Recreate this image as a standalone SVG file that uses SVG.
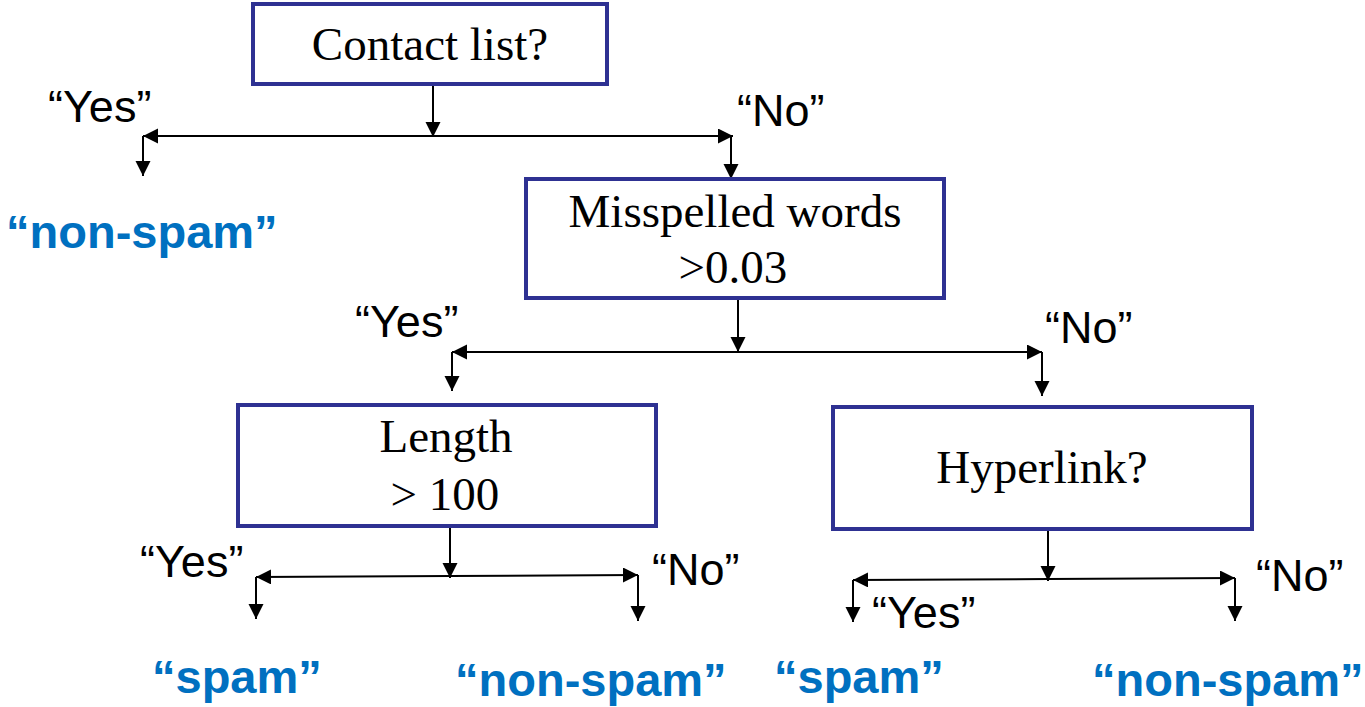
<svg xmlns="http://www.w3.org/2000/svg" width="1365" height="707" viewBox="0 0 1365 707">
<style>
.box{fill:#fff;stroke:#2E3192;stroke-width:4}
.nt{font-family:"Liberation Serif","Times New Roman",serif;font-size:47px;fill:#000;text-anchor:middle}
.lbl{font-family:"Liberation Sans",Arial,sans-serif;font-size:45px;fill:#000}
.res{font-family:"Liberation Sans",Arial,sans-serif;font-size:47px;font-weight:bold;fill:#0070C0}
.c{stroke:#000;stroke-width:2;fill:none;marker-end:url(#ah)}
</style>
<defs>
<marker id="ah" markerUnits="userSpaceOnUse" markerWidth="16" markerHeight="16" refX="15" refY="7.5" orient="auto">
<path d="M0,0 L15,7.5 L0,15 z" fill="#000"/>
</marker>
</defs>
<rect width="1365" height="707" fill="#fff"/>
<g id="connectors">
<path class="c" d="M433,86 V137"/>
<path class="c" d="M433,136 H143"/>
<path class="c" d="M433,136 H733"/>
<path class="c" d="M143,136 V176"/>
<path class="c" d="M731,136 V179"/>
<path class="c" d="M738,300 V352"/>
<path class="c" d="M738,352 H452"/>
<path class="c" d="M738,352 H1042"/>
<path class="c" d="M452,352 V391"/>
<path class="c" d="M1042,352 V396"/>
<path class="c" d="M450,527 V578"/>
<path class="c" d="M450,576 L256,577"/>
<path class="c" d="M450,576 L638,575"/>
<path class="c" d="M256,577 V619"/>
<path class="c" d="M638,575 V621"/>
<path class="c" d="M1048,530 V581"/>
<path class="c" d="M1048,579 L853,580"/>
<path class="c" d="M1048,579 L1235,578"/>
<path class="c" d="M853,580 V622"/>
<path class="c" d="M1235,578 V621"/>
</g>
<g id="node-contact">
<rect class="box" x="253" y="4" width="354" height="80"/>
<text class="nt" x="430" y="60">Contact list?</text>
</g>
<g id="node-misspelled">
<rect class="box" x="526" y="179" width="418" height="119"/>
<text class="nt" x="735" y="227">Misspelled words</text>
<text class="nt" x="733" y="283">&gt;0.03</text>
</g>
<g id="node-length">
<rect class="box" x="238" y="405" width="418" height="121"/>
<text class="nt" x="446" y="452">Length</text>
<text class="nt" x="445" y="510">&gt; 100</text>
</g>
<g id="node-hyperlink">
<rect class="box" x="833" y="407" width="419" height="122"/>
<text class="nt" x="1042" y="483">Hyperlink?</text>
</g>
<g id="labels">
<text class="lbl" x="48" y="122">“Yes”</text>
<text class="lbl" x="737" y="126">“No”</text>
<text class="lbl" x="355" y="337">“Yes”</text>
<text class="lbl" x="1045" y="343">“No”</text>
<text class="lbl" x="140" y="577">“Yes”</text>
<text class="lbl" x="652" y="585">“No”</text>
<text class="lbl" x="872" y="628">“Yes”</text>
<text class="lbl" x="1256" y="591">“No”</text>
</g>
<g id="results">
<text class="res" x="6" y="248">“non-spam”</text>
<text class="res" x="152" y="693">“spam”</text>
<text class="res" x="455" y="696">“non-spam”</text>
<text class="res" x="774" y="693">“spam”</text>
<text class="res" x="1092" y="696">“non-spam”</text>
</g>
</svg>
